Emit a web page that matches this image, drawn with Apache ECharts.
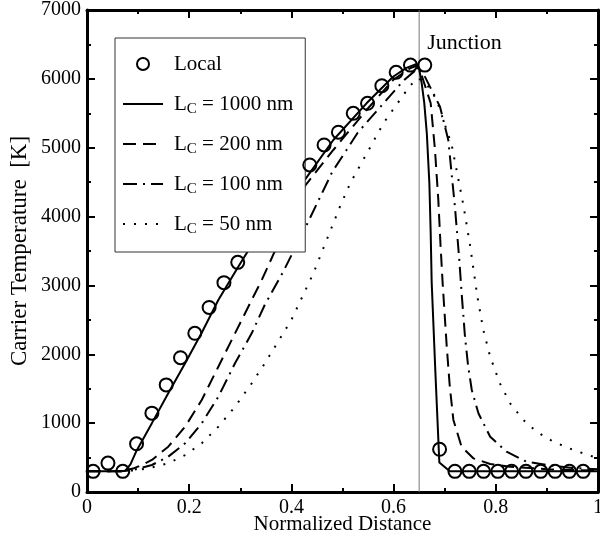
<!DOCTYPE html>
<html>
<head>
<meta charset="utf-8">
<script src="https://cdn.jsdelivr.net/npm/echarts@6/dist/echarts.min.js"></script>
<style>
html, body { margin: 0; padding: 0; background: #fff; }
#chart { width: 600px; height: 537px; }
</style>
</head>
<body>
<div id="chart"></div>
<script>
// values (x = normalized distance, T = carrier temperature in K)
var localX = [0.012, 0.041, 0.070, 0.097, 0.127, 0.155, 0.183, 0.211, 0.239, 0.268, 0.295,
    0.436, 0.464, 0.492, 0.521, 0.549, 0.577, 0.605, 0.633, 0.661, 0.690,
    0.720, 0.748, 0.776, 0.804, 0.831, 0.859, 0.888, 0.916, 0.944, 0.971];
var localT = [300, 420, 300, 700, 1145, 1555, 1950, 2305, 2680, 3040, 3335,
    4750, 5040, 5225, 5500, 5645, 5900, 6095, 6200, 6200, 620,
    300, 300, 300, 300, 300, 300, 300, 300, 300, 300];

var lc1000X = [0, 0.065, 0.075, 0.085, 0.097, 0.127, 0.159, 0.192, 0.225, 0.257, 0.296, 0.33, 0.38, 0.427,
    0.482, 0.547, 0.599, 0.625, 0.645, 0.650, 0.655, 0.660, 0.665, 0.670, 0.6726, 0.6745, 0.682, 0.6895, 0.71, 1];
var lc1000T = [300, 300, 310, 400, 600, 1000, 1433, 1869, 2320, 2788, 3272, 3680, 4150, 4540,
    5112, 5645, 6031, 6160, 6215, 6150, 5935, 5650, 5209, 4483, 3757, 3050, 1700, 430, 300, 300];

var lc200X = [0, 0.065, 0.09, 0.11, 0.127, 0.159, 0.192, 0.2245, 0.257, 0.2896, 0.3223, 0.342, 0.38, 0.427,
    0.482, 0.547, 0.599, 0.632, 0.645, 0.655, 0.6726, 0.681, 0.6875, 0.692, 0.696, 0.704, 0.710, 0.717,
    0.733, 0.756, 0.789, 0.828, 0.9, 1];
var lc200T = [300, 300, 340, 400, 465, 658, 948, 1336, 1820, 2304, 2788, 3079, 3700, 4450,
    4967, 5548, 5983, 6153, 6190, 6050, 5645, 4967, 4240, 3562, 3030, 2110, 1529, 1046,
    658, 489, 407, 368, 330, 310];

var lc100X = [0, 0.065, 0.09, 0.127, 0.159, 0.192, 0.2245, 0.257, 0.2896, 0.3223, 0.348, 0.384, 0.43,
    0.48, 0.53, 0.575, 0.62, 0.647, 0.66, 0.6908, 0.707, 0.720, 0.7286, 0.733, 0.7397, 0.746, 0.753,
    0.766, 0.789, 0.821, 0.86, 0.9, 0.95, 1];
var lc100T = [300, 300, 320, 392, 513, 707, 998, 1384, 1869, 2304, 2720, 3200, 3880,
    4650, 5220, 5600, 5980, 6150, 6050, 5596, 5112, 4143, 3369, 2900, 2255, 1820, 1481,
    1143, 803, 585, 440, 392, 350, 330];

var lc50X = [0, 0.07, 0.1, 0.123, 0.159, 0.192, 0.2245, 0.257, 0.2896, 0.3223, 0.348, 0.40, 0.443,
    0.469, 0.495, 0.515, 0.55, 0.58, 0.632, 0.648, 0.665, 0.684, 0.7137, 0.7365, 0.7495, 0.764,
    0.7756, 0.789, 0.808, 0.828, 0.854, 0.880, 0.9126, 0.9517, 0.991, 1];
var lc50T = [300, 300, 320, 350, 417, 537, 707, 948, 1239, 1578, 1869, 2500, 3176,
    3660, 4143, 4483, 4950, 5355, 5900, 6010, 5920, 5700, 5039, 4168, 3587, 2836,
    2353, 1965, 1578, 1288, 1046, 876, 730, 610, 513, 500];

var junctionX = 0.65;
var junctionLabelT = 6520;

var legendLabels = {
    Local: 'Local',
    Lc1000: 'L{s|C} = 1000 nm',
    Lc200: 'L{s|C} = 200 nm',
    Lc100: 'L{s|C} = 100 nm',
    Lc50: 'L{s|C} = 50 nm'
};

var FONT = '"Liberation Serif", "DejaVu Serif", serif';

function zip(xs, ys) {
    return xs.map(function (x, i) { return [x, ys[i]]; });
}

function curve(name, xs, ys, dash) {
    return {
        name: name,
        type: 'line',
        data: zip(xs, ys),
        symbol: 'none',
        smooth: false,
        lineStyle: { color: '#000', width: 2, type: dash, cap: 'butt' },
        itemStyle: { color: '#000' },
        z: 3
    };
}

function axisCommon(pos, showLabel) {
    return {
        type: 'value',
        position: pos,
        nameMoveOverlap: false,
        axisLine: { show: true, onZero: false, lineStyle: { color: '#000', width: 3, opacity: 1 } },
        axisTick: { show: true, inside: true, length: 8, lineStyle: { color: '#000', width: 2, opacity: 1 } },
        minorTick: { show: true, splitNumber: 2, length: 4, lineStyle: { color: '#000', width: 2, opacity: 1 } },
        splitLine: { show: false },
        minorSplitLine: { show: false },
        axisLabel: {
            show: showLabel, color: '#000', fontFamily: FONT, fontSize: 20, margin: 6,
            formatter: function (v) { return String(v); }
        }
    };
}

var xBottom = axisCommon('bottom', true);
xBottom.min = 0; xBottom.max = 1; xBottom.interval = 0.2;
xBottom.name = 'Normalized Distance';
xBottom.nameLocation = 'middle';
xBottom.nameGap = 22;
xBottom.nameTextStyle = { color: '#000', fontFamily: FONT, fontSize: 21 };

var xTop = axisCommon('top', false);
xTop.min = 0; xTop.max = 1; xTop.interval = 0.2;

var yLeft = axisCommon('left', true);
yLeft.min = 0; yLeft.max = 7000; yLeft.interval = 1000;
yLeft.name = 'Carrier Temperature  [K]';
yLeft.nameLocation = 'middle';
yLeft.nameGap = 56;
yLeft.nameTextStyle = { color: '#000', fontFamily: FONT, fontSize: 23 };

var yRight = axisCommon('right', false);
yRight.min = 0; yRight.max = 7000; yRight.interval = 1000;

var noSymbol = { color: 'rgba(0,0,0,0)', borderColor: 'rgba(0,0,0,0)', borderWidth: 0 };

var chart = echarts.init(document.getElementById('chart'));
chart.setOption({
    animation: false,
    backgroundColor: '#fff',
    grid: { left: 87, right: 2, top: 10, bottom: 45, containLabel: false, outerBoundsMode: 'none' },
    xAxis: [xBottom, xTop],
    yAxis: [yLeft, yRight],
    legend: {
        orient: 'vertical',
        left: 115,
        top: 38,
        selectedMode: false,
        symbolKeepAspect: true,
        itemWidth: 40,
        itemHeight: 12,
        itemGap: 14,
        padding: [13, 12, 15, 7],
        backgroundColor: '#fff',
        borderColor: '#333',
        borderWidth: 1,
        data: [
            { name: 'Local' },
            { name: 'Lc1000', itemStyle: noSymbol },
            { name: 'Lc200', itemStyle: noSymbol },
            { name: 'Lc100', itemStyle: noSymbol },
            { name: 'Lc50', itemStyle: noSymbol }
        ],
        formatter: function (name) { return legendLabels[name]; },
        textStyle: {
            color: '#000', fontFamily: FONT, fontSize: 21, lineHeight: 26, padding: [0, 0, 0, 6],
            rich: { s: { color: '#000', fontFamily: FONT, fontSize: 15, lineHeight: 8, verticalAlign: 'bottom' } }
        }
    },
    series: [
        {
            name: 'Junction line',
            type: 'line',
            data: [[junctionX, 0], [junctionX, 7000]],
            symbol: 'none',
            silent: true,
            lineStyle: { color: '#777', width: 1 },
            z: 1
        },
        {
            name: 'Junction',
            type: 'scatter',
            data: [[junctionX, junctionLabelT]],
            symbolSize: 0,
            silent: true,
            itemStyle: { opacity: 1 },
            label: { show: true, position: 'right', distance: 8, formatter: 'Junction', color: '#000', fontFamily: FONT, fontSize: 22 }
        },
        curve('Lc1000', lc1000X, lc1000T, 'solid'),
        curve('Lc200', lc200X, lc200T, [13, 7]),
        curve('Lc100', lc100X, lc100T, [14, 6, 2, 6]),
        curve('Lc50', lc50X, lc50T, [2, 9]),
        {
            name: 'Local',
            type: 'scatter',
            data: zip(localX, localT),
            symbol: 'circle',
            symbolSize: 13,
            itemStyle: { color: 'rgba(0,0,0,0)', borderColor: '#000', borderWidth: 2, opacity: 1 },
            z: 4
        }
    ]
});
</script>
</body>
</html>
